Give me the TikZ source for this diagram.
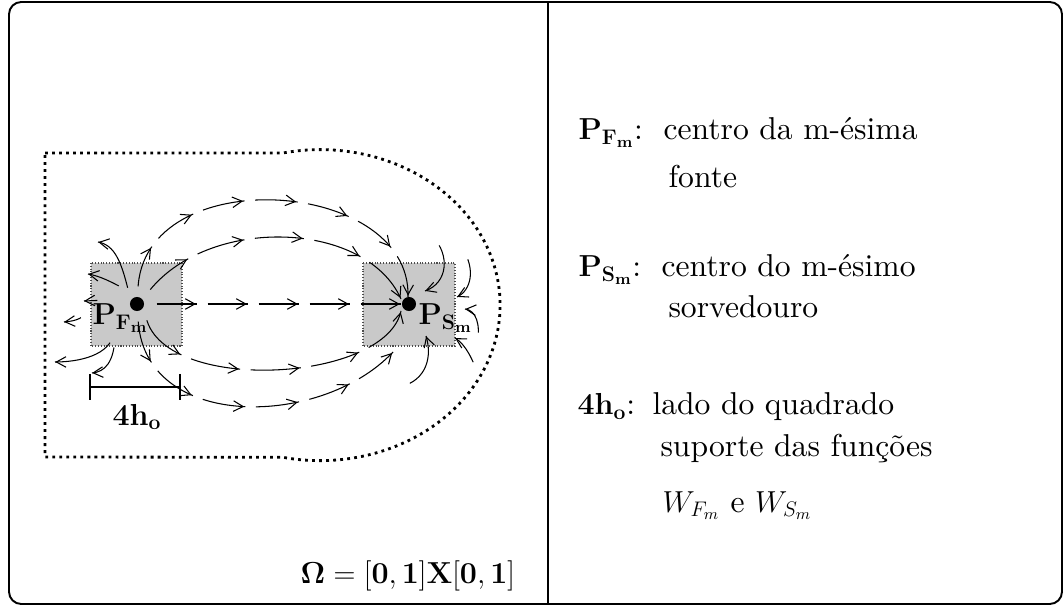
\documentclass[tikz,border=0pt]{standalone}
\usepackage[no-math]{fontspec}
\setmainfont{lmroman10-regular.otf}[BoldFont=lmroman10-bold.otf, ItalicFont=lmroman10-italic.otf, BoldItalicFont=lmroman10-bolditalic.otf]
\usetikzlibrary{arrows.meta,decorations.markings}

\def\gaplen{6}
\def\segon{10}

\tikzset{
  flow/.style={
    postaction={decorate, decoration={markings,
      mark=at position 0pt with {\pgfmathsetmacro{\segon}{\pgfdecoratedpathlength/#1-\gaplen}\global\let\segon\segon},
      mark=between positions 1/#1-0.004 and 1 step 1/#1 with {\arrow{>}}}},
    postaction={draw, dash pattern=on \segon pt off \gaplen pt, dash phase=\segon pt}},
  gbox/.style={fill=black!21, draw=black!70, densely dotted, line width=0.6pt},
  fdot/.style={circle, fill=black, inner sep=0pt, minimum size=8pt},
  lbl/.style={inner sep=0pt, font=\fontsize{18}{21}\selectfont},
  txt/.style={inner sep=0pt, anchor=base west, font=\fontsize{18}{21}\selectfont},
  border/.style={line width=1.6pt, dash pattern=on 1.6pt off 2.4pt}
}

\begin{document}
\begin{tikzpicture}[x=0.02cm, y=-0.02cm, line width=0.6pt,
  >={Straight Barb[length=5.5pt,width=6pt]}]
\useasboundingbox (0,0) rectangle (1064,607);

% frame
\draw[line width=1.1pt, rounded corners=7pt] (9,2) rectangle (1062,604);
\draw[line width=1.1pt] (548,2) -- (548,604);

% domain
\draw[border] (45,153) -- (283,153)
  arc[start angle=-101.9, end angle=101.9, x radius=180, y radius=155.5]
  -- (45,457) -- cycle;

% support squares
\fill[gbox] (91,263) rectangle (182,346);
\fill[gbox] (363,263) rectangle (455,346);
\draw[gbox, fill=none] (91,263) rectangle (182,346);
\draw[gbox, fill=none] (363,263) rectangle (455,346);

% field lines between source and sink
\path[flow=5] (146,304) -- (401,304);
\path[flow=7] (138,297) .. controls (132,160) and (412,175) .. (408,297);
\path[flow=5] (144,298) .. controls (200,215) and (365,218) .. (401,299);
\path[flow=5] (145,310) .. controls (150,395) and (385,385) .. (401,311);
\path[flow=6] (138,311) .. controls (135,432) and (320,430) .. (393,352);

% leaving the source
\path[flow=1] (130,298) .. controls (122,262) and (115,245) .. (98,242);
\path[flow=1] (128,291) .. controls (112,282) and (100,276) .. (88,274);
\path[flow=1] (108,300) -- (84,301);
\path[flow=1] (86,309) .. controls (86,318) and (76,321) .. (64,322);
\path[flow=1] (114,333) .. controls (110,355) and (80,362) .. (55,362);
\path[flow=1] (115,337) .. controls (114,362) and (105,372) .. (92,373);

% entering the sink
\path[flow=1] (433,237) .. controls (450,255) and (448,283) .. (425,291);
\path[flow=1] (463,250) .. controls (475,268) and (472,290) .. (457,297);
\path[flow=1] (477,343) .. controls (481,325) and (476,310) .. (465,309);
\path[flow=1] (477,372) .. controls (470,352) and (462,342) .. (455,338);
\path[flow=1] (400,387) .. controls (428,380) and (432,355) .. (426,336);

% source and sink
\node[fdot] (pf) at (137,304) {};
\node[fdot] (ps) at (409,304) {};
\node[lbl, anchor=base west] (pflab) at (92,325) {$\mathbf{P_{F_m}}$};
\node[lbl, anchor=base west] (pslab) at (418,325) {$\mathbf{P_{S_m}}$};

% scale bar
\draw (90,374) -- (90,400);
\draw (180,374) -- (180,400);
\draw (90,387) -- (180,387);
\node[lbl, anchor=base] (hlab) at (137,425) {$\mathbf{4h_o}$};

\node[txt] (omega) at (300,583) {$\mathbf{\Omega=[0,1]X[0,1]}$};

% legend
\node[txt] (kf) at (578,140) {$\mathbf{P_{F_m}}$:};
\node[txt] (kf1) at (663,140) {centro da m-ésima};
\node[txt] (kf2) at (668,188) {fonte};
\node[txt] (ks) at (578,277) {$\mathbf{P_{S_m}}$:};
\node[txt] (ks1) at (661,277) {centro do m-ésimo};
\node[txt] (ks2) at (668,318) {sorvedouro};
\node[txt] (kh) at (577,415) {$\mathbf{4h_o}$:};
\node[txt] (kh1) at (652,415) {lado do quadrado};
\node[txt] (kh2) at (660,457) {suporte das funções};
\node[txt] (kh3) at (662,512) {$W_{F_m}$ e $W_{S_m}$};
\end{tikzpicture}
\end{document}
